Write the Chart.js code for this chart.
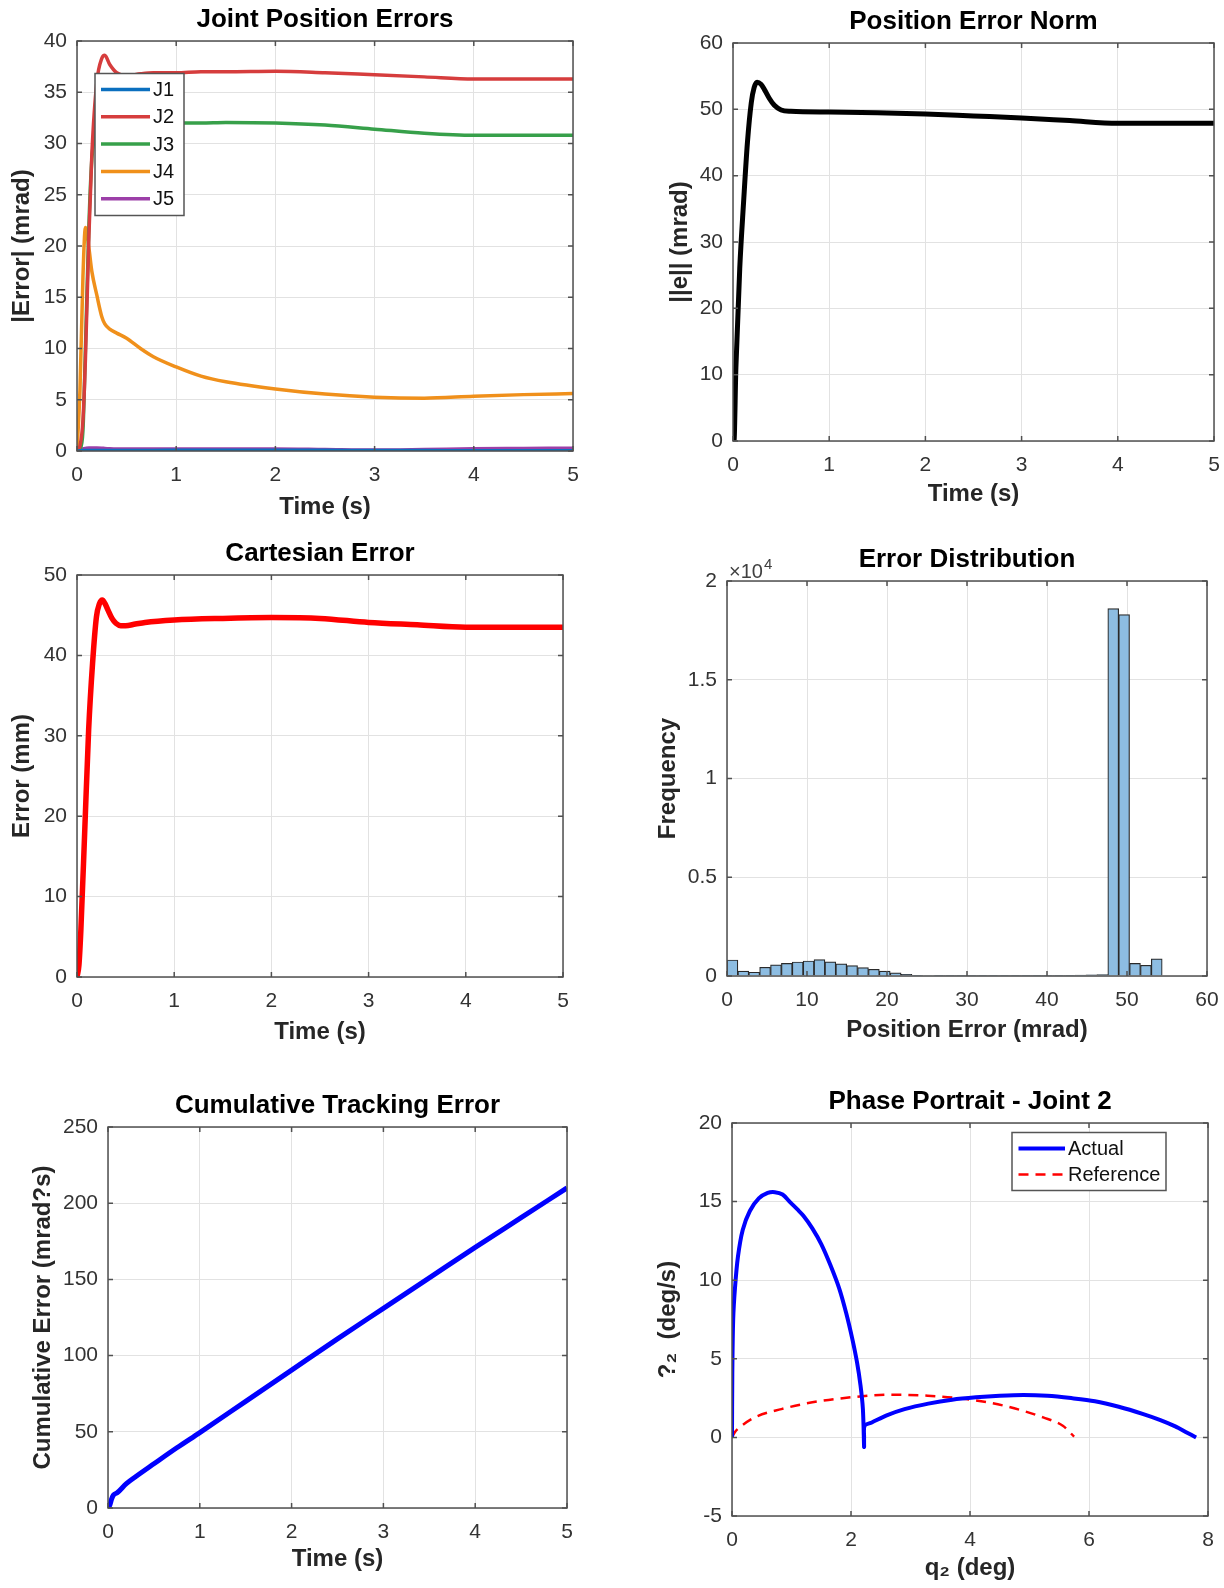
<!DOCTYPE html>
<html>
<head>
<meta charset="utf-8">
<script src="https://cdn.jsdelivr.net/npm/chart.js@4.4.1/dist/chart.umd.min.js"></script>
<style>
  html, body { margin: 0; padding: 0; background: #fff; }
  body { width: 1224px; height: 1588px; position: relative; overflow: hidden; }
  canvas { position: absolute; }
</style>
</head>
<body>
<script>
// ---- Joint position errors (mrad) ----
const jointTime = [0, 0.03, 0.06, 0.085, 0.12, 0.15, 0.2, 0.25, 0.28, 0.33, 0.4, 0.5, 0.64, 0.77, 1, 1.25, 1.5, 2, 2.5, 3, 3.5, 4, 4.5, 5]
const jointLabels = ['J1', 'J2', 'J3', 'J4', 'J5']
const j1Err = [0, 0.02, 0.04, 0.05, 0.05, 0.05, 0.05, 0.05, 0.05, 0.05, 0.05, 0.05, 0.06, 0.06, 0.07, 0.08, 0.08, 0.08, 0.07, 0.05, 0.04, 0.03, 0.02, 0.02]
const j2Err = [0, 0.5, 3, 9, 21, 29, 36, 38.3, 38.6, 37.7, 36.9, 36.6, 36.8, 36.9, 36.9, 37.0, 37.0, 37.05, 36.9, 36.7, 36.5, 36.3, 36.3, 36.3]
const j3Err = [0, 0.2, 2, 10, 22, 28.5, 31.5, 32.2, 32.3, 32.2, 32.1, 32.0, 32.0, 32.0, 32.0, 32.0, 32.05, 32.0, 31.8, 31.4, 31.0, 30.8, 30.8, 30.8]
const j4Err = [0, 6, 17, 21.8, 19.8, 17.5, 15.2, 13.1, 12.4, 11.9, 11.5, 11.0, 10.0, 9.2, 8.2, 7.3, 6.75, 6.05, 5.55, 5.25, 5.15, 5.35, 5.5, 5.6]
const j5Err = [0, 0.1, 0.2, 0.25, 0.3, 0.3, 0.3, 0.28, 0.25, 0.22, 0.2, 0.2, 0.2, 0.2, 0.2, 0.2, 0.2, 0.2, 0.15, 0.1, 0.15, 0.22, 0.25, 0.28]

// ---- Position error norm (mrad) ----
const normTime = [0, 0.01, 0.03, 0.07, 0.11, 0.15, 0.19, 0.22, 0.25, 0.29, 0.33, 0.38, 0.43, 0.5, 0.6, 1, 1.5, 2, 2.5, 3, 3.5, 4, 4.5, 5]
const normErr = [0, 0, 11, 26, 36, 45, 51, 53.3, 54.1, 53.8, 52.9, 51.6, 50.6, 49.9, 49.7, 49.6, 49.5, 49.3, 49.0, 48.7, 48.3, 47.9, 47.9, 47.9]

// ---- Cartesian error (mm) ----
const cartTime = [0, 0.02, 0.04, 0.08, 0.12, 0.16, 0.2, 0.23, 0.26, 0.29, 0.32, 0.36, 0.4, 0.45, 0.5, 0.6, 0.7, 1, 1.5, 2, 2.5, 3, 3.5, 4, 4.5, 5]
const cartErr = [0, 1.5, 5.9, 18.3, 30.8, 39, 44.8, 46.4, 46.9, 46.4, 45.6, 44.6, 44.0, 43.7, 43.7, 43.9, 44.1, 44.4, 44.6, 44.7, 44.6, 44.1, 43.8, 43.5, 43.5, 43.5]

// ---- Error distribution (histogram, bin centres in mrad) ----
const binCenters = [0.68, 2.04, 3.40, 4.76, 6.12, 7.48, 8.84, 10.20, 11.56, 12.92, 14.28, 15.64, 17.00, 18.36, 19.72, 21.08, 22.44, 23.80, 25.16, 26.52,
  27.88, 29.24, 30.60, 31.96, 33.32, 34.68, 36.04, 37.40, 38.76, 40.12, 41.48, 42.84, 44.20, 45.56, 46.92, 48.28, 49.64, 51.00, 52.36, 53.72]
const binCounts = [810, 250, 190, 440, 560, 640, 710, 760, 830, 720, 620, 530, 430, 340, 250, 160, 80, 40, 25, 20,
  15, 15, 15, 15, 15, 15, 15, 15, 15, 15, 20, 40, 50, 60, 70, 18600, 18300, 640, 540, 870]

// ---- Cumulative tracking error ----
const cumTime = [0, 0.02, 0.04, 0.06, 0.1, 0.2, 0.3, 0.5, 0.75, 1, 1.5, 2, 2.5, 3, 3.5, 4, 4.5, 5]
const cumErr = [0, 2, 6, 8.5, 10, 16, 20.5, 29, 39.5, 49.5, 70, 90.5, 111, 131, 151, 171, 190.5, 210]

// ---- Phase portrait, joint 2 ----
const actualQ = [0, 0.005, 0.02, 0.05, 0.1, 0.18, 0.3, 0.45, 0.6, 0.72, 0.85, 0.98, 1.1, 1.2, 1.35, 1.5, 1.65, 1.8, 1.92, 2.02, 2.1, 2.16, 2.2, 2.22,
  2.22, 2.23, 2.35, 2.6, 2.9, 3.3, 3.7, 4.1, 4.5, 4.9, 5.3, 5.7, 6.1, 6.5, 6.9, 7.2, 7.45, 7.65, 7.8]
const actualQd = [0, 4, 7.5, 9.5, 11.5, 13.2, 14.4, 15.2, 15.55, 15.6, 15.45, 14.95, 14.5, 14.1, 13.3, 12.3, 11.0, 9.5, 7.9, 6.3, 4.8, 3.3, 1.8, -0.6,
  0.0, 0.75, 0.95, 1.4, 1.8, 2.15, 2.4, 2.55, 2.65, 2.7, 2.65, 2.5, 2.3, 1.95, 1.5, 1.1, 0.7, 0.3, 0.0]
const refQ = [0, 0.05, 0.15, 0.38, 0.83, 1.35, 2.0, 2.64, 3.29, 3.94, 4.59, 5.23, 5.56, 5.75]
const refQd = [0, 0.35, 0.7, 1.27, 1.8, 2.23, 2.55, 2.72, 2.65, 2.44, 2.0, 1.27, 0.74, 0.05]

const FONT = '"Liberation Sans", Arial, Helvetica, sans-serif'
const INK = '#262626'
const GRID = '#e2e2e2'

const pts = (xs, ys) => xs.map((x, i) => ({ x, y: ys[i] }))

// box, inner tick marks, title, in-axes legend, x10^4 exponent
const framePlugin = {
  id: 'frame',
  afterDatasetsDraw(chart, args, opts) {
    const { ctx, chartArea: a, scales } = chart
    ctx.save()
    ctx.strokeStyle = '#505050'
    ctx.lineWidth = 1.5
    ctx.beginPath()
    scales.x.ticks.forEach(t => {
      const px = scales.x.getPixelForValue(t.value)
      ctx.moveTo(px, a.bottom); ctx.lineTo(px, a.bottom - 5)
      ctx.moveTo(px, a.top); ctx.lineTo(px, a.top + 5)
    })
    scales.y.ticks.forEach(t => {
      const py = scales.y.getPixelForValue(t.value)
      ctx.moveTo(a.left, py); ctx.lineTo(a.left + 5, py)
      ctx.moveTo(a.right, py); ctx.lineTo(a.right - 5, py)
    })
    ctx.stroke()
    ctx.strokeRect(a.left, a.top, a.right - a.left, a.bottom - a.top)

    ctx.fillStyle = '#000'
    ctx.font = 'bold 26px ' + FONT
    ctx.textAlign = 'center'
    ctx.textBaseline = 'middle'
    ctx.fillText(opts.title, (a.left + a.right) / 2, a.top - 21)

    if (opts.exponent) {
      ctx.fillStyle = '#404040'
      ctx.textAlign = 'left'
      ctx.textBaseline = 'alphabetic'
      ctx.font = '20px ' + FONT
      ctx.fillText('\u00d710', a.left + 2, a.top - 3)
      const w = ctx.measureText('\u00d710').width
      ctx.font = '15px ' + FONT
      ctx.fillText('4', a.left + 3 + w, a.top - 12)
    }

    const lg = opts.legend
    if (lg) {
      const bx = a.left + lg.x, by = a.top + lg.y
      ctx.fillStyle = '#fff'
      ctx.fillRect(bx, by, lg.w, lg.h)
      ctx.strokeStyle = '#555'
      ctx.lineWidth = 1.5
      ctx.strokeRect(bx, by, lg.w, lg.h)
      ctx.font = '20px ' + FONT
      ctx.textAlign = 'left'
      ctx.textBaseline = 'middle'
      chart.data.datasets.forEach((ds, i) => {
        const cy = by + lg.first + i * lg.row
        ctx.strokeStyle = ds.borderColor
        ctx.lineWidth = ds.borderWidth
        ctx.setLineDash(ds.borderDash || [])
        ctx.beginPath()
        ctx.moveTo(bx + lg.l0, cy)
        ctx.lineTo(bx + lg.l1, cy)
        ctx.stroke()
        ctx.setLineDash([])
        ctx.fillStyle = '#111'
        ctx.fillText(ds.label, bx + lg.tx, cy + 1)
      })
    }
    ctx.restore()
  }
}

function axis(min, max, step, title, size, horizontal, cb) {
  const o = {
    type: 'linear',
    min, max,
    offset: false,
    ticks: { stepSize: step, color: '#333', font: { family: FONT, size: 21 }, padding: horizontal ? 12 : 10 },
    grid: { color: GRID, lineWidth: 1, drawTicks: false, offset: false },
    border: { display: false },
    title: { display: true, text: title, color: INK, font: { family: FONT, size: 24, weight: 'bold' }, padding: 0 }
  }
  if (cb) o.ticks.callback = cb
  o.afterFit = horizontal ? s => { s.height = size } : s => { s.width = size }
  return o
}

function makePlot(box, type, datasets, xAxis, yAxis, frame) {
  const padTop = 60, padRight = 24
  const canvas = document.createElement('canvas')
  const w = box.right - box.left + box.yw + padRight
  const h = box.bottom - box.top + padTop + box.xh
  canvas.width = w
  canvas.height = h
  canvas.style.left = (box.left - box.yw) + 'px'
  canvas.style.top = (box.top - padTop) + 'px'
  canvas.style.width = w + 'px'
  canvas.style.height = h + 'px'
  document.body.appendChild(canvas)
  return new Chart(canvas.getContext('2d'), {
    type,
    data: { datasets },
    options: {
      responsive: false,
      animation: false,
      devicePixelRatio: 1,
      layout: { padding: { top: padTop, right: padRight, left: 0, bottom: 0 } },
      elements: { point: { radius: 0 } },
      scales: { x: xAxis, y: yAxis },
      plugins: { legend: { display: false }, tooltip: { enabled: false }, frame }
    },
    plugins: [framePlugin]
  })
}

const line = (label, xs, ys, color, width, extra) => Object.assign({
  label, data: pts(xs, ys), borderColor: color, borderWidth: width,
  cubicInterpolationMode: 'monotone', fill: false, pointRadius: 0
}, extra || {})

// 1. Joint Position Errors
const jointColors = ['#0b6fbf', '#d63d3d', '#37a04a', '#f0901b', '#9c3fa8']
const jointSeries = [j1Err, j2Err, j3Err, j4Err, j5Err]
makePlot(
  { left: 77, top: 40.5, right: 573, bottom: 450.5, yw: 69, xh: 71 },
  'line',
  jointSeries.map((s, i) => line(jointLabels[i], jointTime, s, jointColors[i], 3.5)),
  axis(0, 5, 1, 'Time (s)', 71, true),
  axis(0, 40, 5, '|Error| (mrad)', 69, false),
  { title: 'Joint Position Errors', legend: { x: 18, y: 32.5, w: 89, h: 142, first: 16, row: 27.3, l0: 6, l1: 55, tx: 58 } }
)

// 2. Position Error Norm
makePlot(
  { left: 733, top: 42.5, right: 1214, bottom: 441, yw: 67, xh: 68 },
  'line',
  [line('norm', normTime, normErr, '#000000', 5)],
  axis(0, 5, 1, 'Time (s)', 68, true),
  axis(0, 60, 10, '||e|| (mrad)', 67, false),
  { title: 'Position Error Norm' }
)

// 3. Cartesian Error
makePlot(
  { left: 77, top: 575, right: 563, bottom: 977, yw: 69, xh: 70 },
  'line',
  [line('cart', cartTime, cartErr, '#ff0000', 5.5)],
  axis(0, 5, 1, 'Time (s)', 70, true),
  axis(0, 50, 10, 'Error (mm)', 69, false),
  { title: 'Cartesian Error' }
)

// 4. Error Distribution
makePlot(
  { left: 727, top: 581, right: 1207, bottom: 976, yw: 73, xh: 69 },
  'bar',
  [{
    label: 'hist', data: pts(binCenters, binCounts),
    backgroundColor: '#8dbde2', borderColor: '#2a2a2a', borderWidth: 1.2,
    barPercentage: 1, categoryPercentage: 1, grouped: false
  }],
  axis(0, 60, 10, 'Position Error (mrad)', 69, true),
  axis(0, 20000, 5000, 'Frequency', 73, false, v => String(v / 10000)),
  { title: 'Error Distribution', exponent: true }
)

// 5. Cumulative Tracking Error
makePlot(
  { left: 108, top: 1127, right: 567, bottom: 1508, yw: 79, xh: 66 },
  'line',
  [line('cum', cumTime, cumErr, '#0000ff', 5)],
  axis(0, 5, 1, 'Time (s)', 66, true),
  axis(0, 250, 50, 'Cumulative Error (mrad?s)', 79, false),
  { title: 'Cumulative Tracking Error' }
)

// 6. Phase Portrait - Joint 2
makePlot(
  { left: 732, top: 1123, right: 1208, bottom: 1516, yw: 78, xh: 67 },
  'line',
  [
    line('Actual', actualQ, actualQd, '#0000ff', 4, { cubicInterpolationMode: 'default', tension: 0.3 }),
    line('Reference', refQ, refQd, '#ff0000', 2.5, { borderDash: [10, 7] })
  ],
  axis(0, 8, 2, 'q\u2082 (deg)', 67, true),
  axis(-5, 20, 5, '?\u2082  (deg/s)', 78, false),
  { title: 'Phase Portrait - Joint 2', legend: { x: 280, y: 9.5, w: 154, h: 58, first: 16, row: 26, l0: 6.5, l1: 53, tx: 56 } }
)
</script>
</body>
</html>
